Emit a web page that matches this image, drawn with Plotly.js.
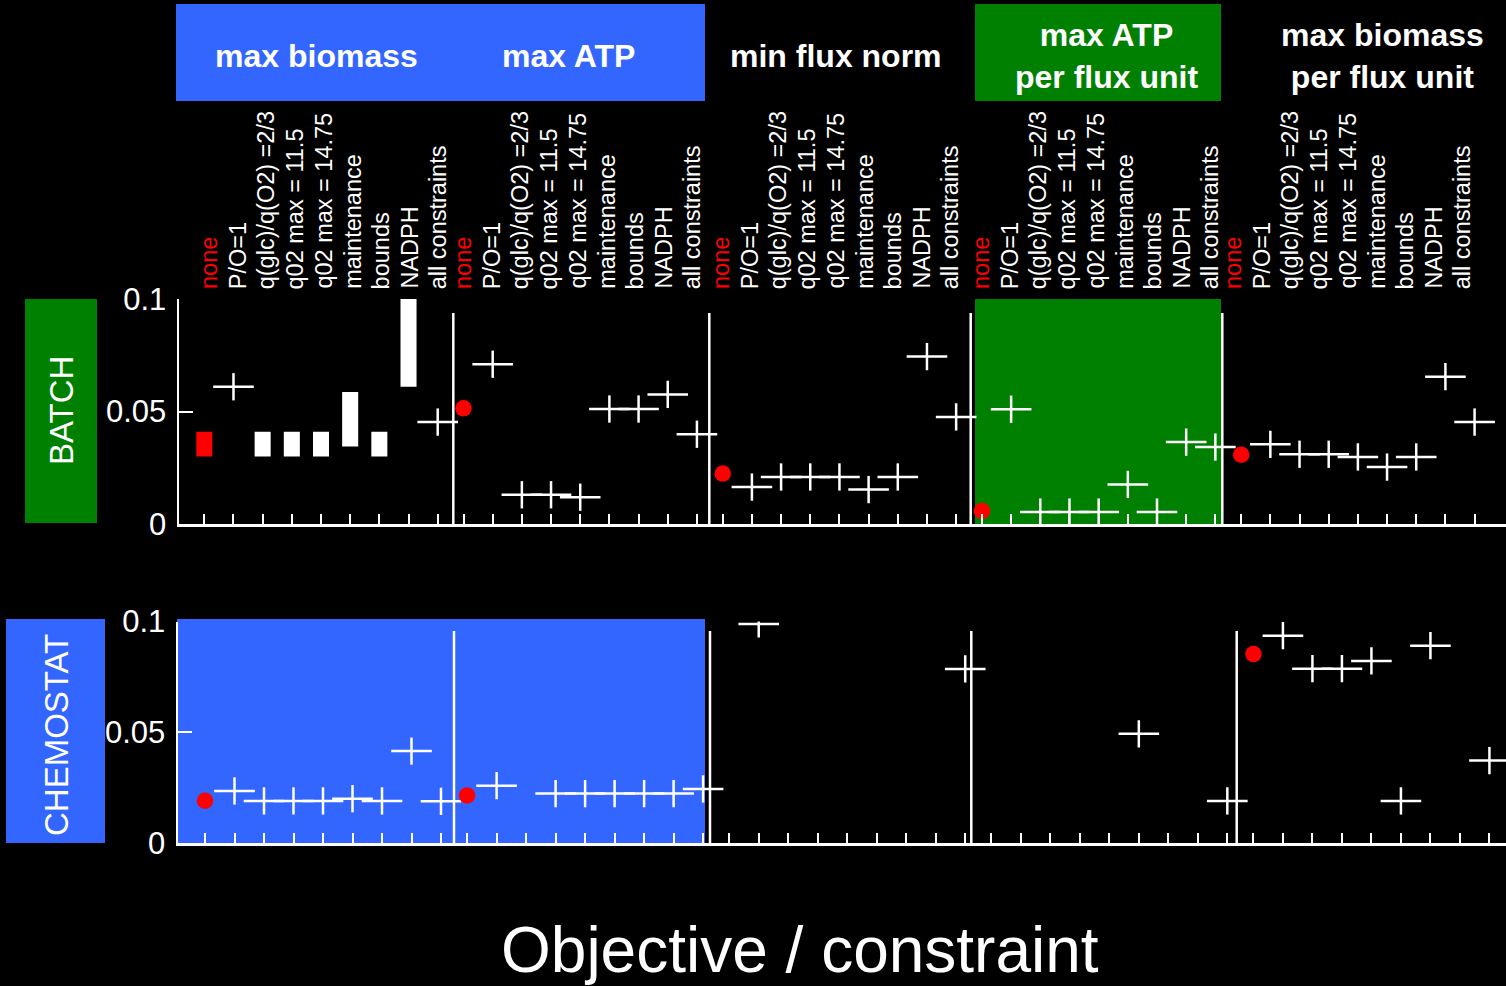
<!DOCTYPE html>
<html><head><meta charset="utf-8">
<script src="https://cdn.plot.ly/plotly-3.0.1.min.js"></script>
<style>html,body{margin:0;padding:0;background:#000;}#chart{width:1506px;height:986px;}</style>
</head><body><div id="chart"></div>
<script>
// ---- data ----
const constraints = ['none','P/O=1','q(glc)/q(O2) =2/3','q02 max = 11.5','q02 max = 14.75','maintenance','bounds','NADPH','all constraints'];
const objectives = ['max biomass','max ATP','min flux norm','max ATP<br>per flux unit','max biomass<br>per flux unit'];
const conditions = ['BATCH','CHEMOSTAT'];
const yTickVals = [0, 0.05, 0.1];
const yTickText = ['0', '0.05', '0.1'];

// BATCH: max biomass gives ranges (bars) for most constraints
const batchMaxBiomassLo = [0.030, null, 0.030, 0.030, 0.030, 0.0344, 0.030, 0.061, null];
const batchMaxBiomassHi = [0.041, null, 0.041, 0.041, 0.041, 0.0587, 0.041, 0.100, null];
const batchMaxBiomass = [null, 0.061, null, null, null, null, null, null, 0.0453];
const batchMaxATP = [0.0514, 0.071, 0.013, 0.013, 0.0119, 0.0511, 0.0511, 0.0576, 0.0399];
const batchMinFluxNorm = [0.0224, 0.0164, 0.0209, 0.0209, 0.0209, 0.0153, 0.0209, 0.0744, 0.0476];
const batchMaxATPperFlux = [0.0058, 0.051, 0.0053, 0.0053, 0.0053, 0.0176, 0.0053, 0.0364, 0.0342];
const batchMaxBiomassPerFlux = [0.0308, 0.0354, 0.031, 0.031, 0.0298, 0.0253, 0.0298, 0.0655, 0.0453];

// CHEMOSTAT
const chemMaxBiomass = [0.0191, 0.0235, 0.019, 0.019, 0.019, 0.020, 0.019, 0.0415, 0.0188];
const chemMaxATP = [0.0215, 0.0259, null, 0.0223, 0.0223, 0.0223, 0.0223, 0.0223, 0.0244];
const chemMinFluxNorm = [null, 0.0989, null, null, null, null, null, null, 0.0786];
const chemMaxATPperFlux = [null, null, null, null, null, 0.0493, null, null, 0.019];
const chemMaxBiomassPerFlux = [0.0853, 0.0936, 0.0787, 0.0787, 0.0822, 0.019, 0.0891, null, 0.0372];

// ---- layout helpers ----
const W = 1506, H = 986;
const px = v => v / W;
const py = v => 1 - v / H;
const GROUP_STEP = 8.885;
const pos = (g, j) => g * GROUP_STEP + j;
const allPos = [];
objectives.forEach((o, g) => constraints.forEach((c, j) => allPos.push(pos(g, j))));

const FONT = 'Liberation Sans, Arial, Helvetica, sans-serif';
const WHITE = '#ffffff', RED = '#ff0000', BLUE = '#3366ff', GREEN = '#008000';

function collect(seriesList) {
  const cx = [], cy = [], dx = [], dy = [];
  seriesList.forEach((s, g) => s.forEach((v, j) => {
    if (v === null) return;
    if (j === 0) { dx.push(pos(g, j)); dy.push(v); } else { cx.push(pos(g, j)); cy.push(v); }
  }));
  return {cx, cy, dx, dy};
}

function markerTraces(seriesList, xa, ya) {
  const d = collect(seriesList);
  return [
    {type:'scatter', mode:'markers', x:d.cx, y:d.cy, xaxis:xa, yaxis:ya, hoverinfo:'skip',
     marker:{symbol:'line-ew', size:29, color:WHITE, line:{color:WHITE, width:2.5}}},
    {type:'scatter', mode:'markers', x:d.cx, y:d.cy, xaxis:xa, yaxis:ya, hoverinfo:'skip',
     marker:{symbol:'line-ns', size:19.5, color:WHITE, line:{color:WHITE, width:2.5}}},
    {type:'scatter', mode:'markers', x:d.dx, y:d.dy, xaxis:xa, yaxis:ya, hoverinfo:'skip',
     marker:{symbol:'circle', size:16.5, color:RED, line:{width:0}}}
  ];
}

const barX = [], barBase = [], barLen = [], barCol = [];
batchMaxBiomassLo.forEach((lo, j) => {
  if (lo === null) return;
  barX.push(pos(0, j)); barBase.push(lo); barLen.push(batchMaxBiomassHi[j] - lo);
  barCol.push(j === 0 ? RED : WHITE);
});

const traces = [
  {type:'bar', x:barX, y:barLen, base:barBase, width:0.55, xaxis:'x', yaxis:'y', hoverinfo:'skip',
   marker:{color:barCol, line:{width:0}}},
  ...markerTraces([batchMaxBiomass, batchMaxATP, batchMinFluxNorm, batchMaxATPperFlux, batchMaxBiomassPerFlux], 'x', 'y'),
  ...markerTraces([chemMaxBiomass, chemMaxATP, chemMinFluxNorm, chemMaxATPperFlux, chemMaxBiomassPerFlux], 'x2', 'y2')
];

// axis geometry (pixels)
const B = {left:179, x0:204.3, unit:29.175, top:299, bottom:524};
const C = {left:178, x0:205, unit:29.5, top:621.5, bottom:843};
const rangeOf = g => [(g.left - g.x0) / g.unit, (W - g.x0) / g.unit];

const xBase = {
  showline:true, linecolor:WHITE, linewidth:2.5, ticks:'inside', ticklen:10, tickwidth:2, tickcolor:WHITE,
  tickmode:'array', tickvals:allPos, showticklabels:false, showgrid:false, zeroline:false, fixedrange:true
};
const yBase = {
  showline:true, linecolor:WHITE, linewidth:2.5, ticks:'inside', ticklen:14, tickwidth:2, tickcolor:WHITE,
  tickmode:'array', tickvals:yTickVals, ticktext:yTickText, range:[0, 0.1], showgrid:false, zeroline:false,
  tickfont:{family:FONT, size:31, color:WHITE}, ticklabelstandoff:4, fixedrange:true
};

const shapes = [];
function rect(x0, x1, y0, y1, color) {
  shapes.push({type:'rect', xref:'paper', yref:'paper', x0:px(x0), x1:px(x1), y0:py(y1), y1:py(y0),
    fillcolor:color, line:{width:0}, layer:'below'});
}
function vline(x, y0, y1) {
  shapes.push({type:'line', xref:'paper', yref:'paper', x0:px(x), x1:px(x), y0:py(y1), y1:py(y0),
    line:{color:WHITE, width:2.5}, layer:'above'});
}
rect(176, 705, 4, 101, BLUE);
rect(975, 1221, 4, 101, GREEN);
rect(25, 97, 299, 523, GREEN);
rect(6, 105, 619, 843, BLUE);
rect(975, 1221, 299, 524, GREEN);
rect(177, 705, 619, 843, BLUE);
[453.3, 709.3, 970.7, 1222.3].forEach(x => vline(x, 313, 524));
[454, 710, 971.3, 1236.7].forEach(x => vline(x, 631, 843));

const annotations = [];
// objective headers
const headX = [316, 568, 836, 1106, 1382];
objectives.forEach((o, i) => annotations.push({
  text:'<b>' + o + '</b>', xref:'paper', yref:'paper', x:px(headX[i]), y:py(55.5), xanchor:'center', yanchor:'middle',
  showarrow:false, font:{family:FONT, size:32, color:WHITE}
}));
// rotated constraint labels above the batch panel
const labelGroupX = [209, 463, 721, 981, 1233];
const LABEL_STEP = 28.65;
objectives.forEach((o, g) => constraints.forEach((c, j) => annotations.push({
  text:c, xref:'paper', yref:'paper', x:px(labelGroupX[g] + j * LABEL_STEP), y:py(290), textangle:-90,
  xanchor:'center', yanchor:'bottom', showarrow:false, borderpad:0,
  font:{family:FONT, size:23.5, color:j === 0 ? RED : WHITE}
})));
// condition labels
annotations.push({text:conditions[0], xref:'paper', yref:'paper', x:px(61), y:py(411), textangle:-90,
  xanchor:'center', yanchor:'middle', showarrow:false, font:{family:FONT, size:33, color:WHITE}});
annotations.push({text:conditions[1], xref:'paper', yref:'paper', x:px(56), y:py(735), textangle:-90,
  xanchor:'center', yanchor:'middle', showarrow:false, font:{family:FONT, size:33, color:WHITE}});
// axis title
annotations.push({text:'Objective / constraint', xref:'paper', yref:'paper', x:px(800), y:py(950),
  xanchor:'center', yanchor:'middle', showarrow:false, font:{family:FONT, size:64, color:WHITE}});

const layout = {
  width:W, height:H, margin:{l:0, r:0, t:0, b:0},
  paper_bgcolor:'#000000', plot_bgcolor:'rgba(0,0,0,0)',
  showlegend:false, hovermode:false, barmode:'overlay',
  xaxis:Object.assign({}, xBase, {domain:[px(B.left), 1], range:rangeOf(B), anchor:'y'}),
  yaxis:Object.assign({}, yBase, {domain:[py(B.bottom), py(B.top)], anchor:'x'}),
  xaxis2:Object.assign({}, xBase, {domain:[px(C.left), 1], range:rangeOf(C), anchor:'y2'}),
  yaxis2:Object.assign({}, yBase, {domain:[py(C.bottom), py(C.top)], anchor:'x2'}),
  shapes, annotations
};

Plotly.newPlot('chart', traces, layout, {displayModeBar:false, staticPlot:true});
</script>
</body></html>
